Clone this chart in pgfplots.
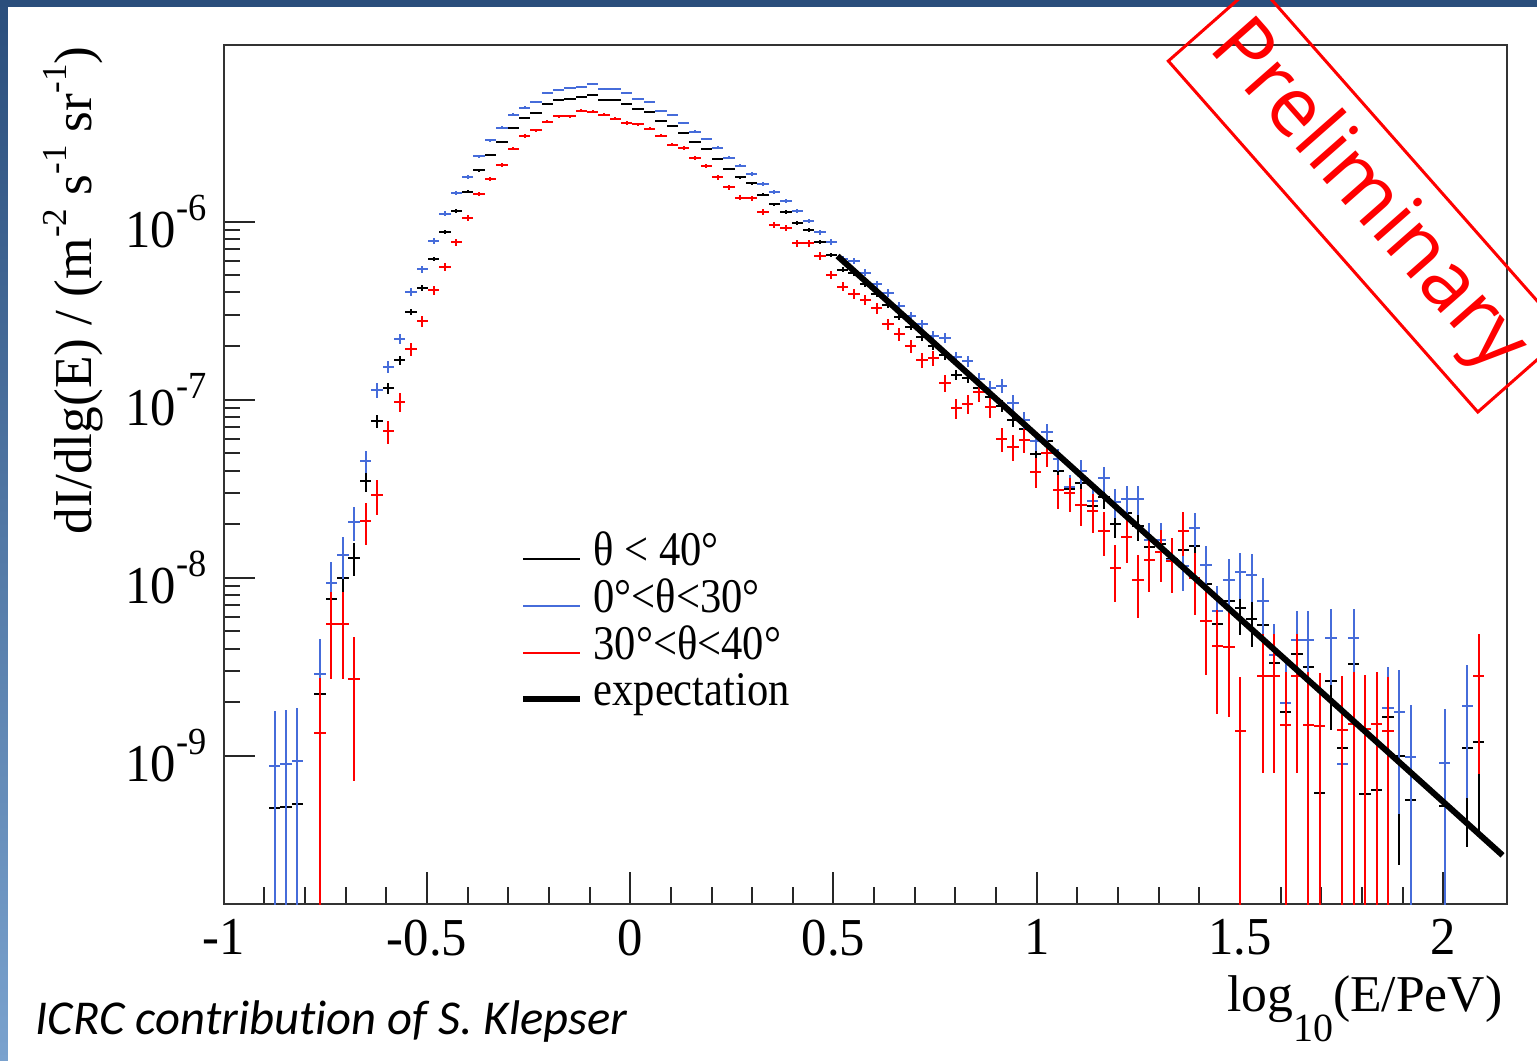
\documentclass[border=0pt]{standalone}
\usepackage{pgfplots}
\usepackage{pgfplotstable}
\pgfplotsset{compat=1.18}
\usepackage{fontspec}
\newfontfamily\rootfont{Liberation Serif}[FakeStretch=0.88]
\newfontfamily\tickfont{Liberation Serif}[FakeStretch=0.95]
\newfontfamily\titlefont{Liberation Serif}[FakeStretch=1.0]
\newfontfamily\notefont{Carlito}[Ligatures=NoCommon]
\newfontfamily\stampfont{Open Sans}

\definecolor{rootblue}{RGB}{70,108,218}
\definecolor{rootred}{RGB}{255,0,0}
\definecolor{slidetop}{RGB}{42,78,124}
\definecolor{slidebottom}{RGB}{122,162,206}

% decade tick label 10^{-n} in the ROOT look
\newcommand{\tl}[1]{{\tickfont\fontsize{16}{16}\selectfont 10\raisebox{8pt}{\fontsize{11.5}{11.5}\selectfont -#1}}}
% raised exponent in the axis titles
\newcommand{\rs}[1]{\raisebox{7.5pt}{\fontsize{10.5}{10.5}\selectfont #1}}

% columns: log10(E/PeV), dI/dlg(E), upper error, lower error
\pgfplotstableread{
x y ep em
-0.8746 5.06e-10 5.37e-10 5.01e-10
-0.8467 5.15e-10 5.42e-10 5.10e-10
-0.8187 5.33e-10 5.51e-10 5.28e-10
-0.7628 2.22e-9 1.13e-9 1.13e-9
-0.7349 7.57e-9 2.08e-9 2.08e-9
-0.7069 9.93e-9 2.38e-9 2.38e-9
-0.6790 1.29e-8 2.71e-9 2.71e-9
-0.6510 3.49e-8 4.46e-9 4.46e-9
-0.6231 7.59e-8 6.58e-9 6.58e-9
-0.5952 1.16e-7 8.13e-9 8.13e-9
-0.5672 1.66e-7 9.73e-9 9.73e-9
-0.5393 3.11e-7 1.33e-8 1.33e-8
-0.5113 4.25e-7 1.56e-8 1.56e-8
-0.4834 6.17e-7 1.87e-8 1.87e-8
-0.4554 8.71e-7 2.23e-8 2.23e-8
-0.4275 1.15e-6 2.56e-8 2.56e-8
-0.3996 1.47e-6 2.89e-8 2.89e-8
-0.3716 1.94e-6 3.32e-8 3.32e-8
-0.3437 2.37e-6 3.67e-8 3.67e-8
-0.3157 2.81e-6 4.00e-8 4.00e-8
-0.2878 3.37e-6 4.38e-8 4.38e-8
-0.2598 3.84e-6 4.68e-8 4.68e-8
-0.2319 4.06e-6 4.81e-8 4.81e-8
-0.2040 4.57e-6 5.10e-8 5.10e-8
-0.1760 4.81e-6 5.24e-8 5.24e-8
-0.1481 4.89e-6 5.28e-8 5.28e-8
-0.1201 5.00e-6 5.34e-8 5.34e-8
-0.0922 5.15e-6 5.42e-8 5.42e-8
-0.0642 4.85e-6 5.26e-8 5.26e-8
-0.0363 4.81e-6 5.24e-8 5.24e-8
-0.0084 4.57e-6 5.10e-8 5.10e-8
0.0196 4.30e-6 4.95e-8 4.95e-8
0.0475 4.15e-6 4.86e-8 4.86e-8
0.0755 3.68e-6 4.58e-8 4.58e-8
0.1034 3.45e-6 4.43e-8 4.43e-8
0.1313 3.15e-6 4.24e-8 4.24e-8
0.1593 2.81e-6 4.00e-8 4.00e-8
0.1872 2.56e-6 3.82e-8 3.82e-8
0.2152 2.25e-6 3.58e-8 3.58e-8
0.2431 1.98e-6 3.36e-8 3.36e-8
0.2711 1.77e-6 3.18e-8 3.18e-8
0.2990 1.64e-6 3.06e-8 3.06e-8
0.3269 1.42e-6 2.84e-8 2.84e-8
0.3549 1.25e-6 2.67e-8 2.67e-8
0.3828 1.13e-6 2.54e-8 2.54e-8
0.4108 9.80e-7 2.36e-8 2.36e-8
0.4387 9.02e-7 2.27e-8 2.27e-8
0.4667 7.72e-7 2.10e-8 2.10e-8
0.4946 6.50e-7 1.92e-8 1.92e-8
0.5225 5.38e-7 1.75e-8 1.75e-8
0.5505 5.13e-7 1.71e-8 1.71e-8
0.5784 4.45e-7 1.59e-8 1.59e-8
0.6064 3.91e-7 1.49e-8 1.49e-8
0.6343 3.40e-7 1.39e-8 1.39e-8
0.6623 2.92e-7 1.29e-8 1.29e-8
0.6902 2.57e-7 1.21e-8 1.21e-8
0.7182 2.24e-7 1.13e-8 1.13e-8
0.7461 2.01e-7 1.07e-8 1.07e-8
0.7740 1.78e-7 1.01e-8 1.01e-8
0.8020 1.38e-7 8.87e-9 8.87e-9
0.8299 1.32e-7 8.67e-9 8.67e-9
0.8579 1.17e-7 8.17e-9 8.17e-9
0.8858 1.04e-7 7.70e-9 7.70e-9
0.9138 9.23e-8 7.25e-9 7.25e-9
0.9417 7.69e-8 6.62e-9 6.62e-9
0.9696 6.82e-8 6.23e-9 6.23e-9
0.9976 4.98e-8 5.33e-9 5.33e-9
1.0255 5.89e-8 5.79e-9 5.79e-9
1.0535 3.99e-8 4.77e-9 4.77e-9
1.0814 3.14e-8 4.23e-9 4.23e-9
1.1094 3.39e-8 4.39e-9 4.39e-9
1.1373 2.54e-8 3.80e-9 3.80e-9
1.1652 2.85e-8 4.03e-9 4.03e-9
1.1932 2.00e-8 3.38e-9 3.38e-9
1.2211 2.32e-8 3.64e-9 3.64e-9
1.2491 1.95e-8 3.33e-9 3.33e-9
1.2770 1.49e-8 2.91e-9 2.91e-9
1.3050 1.54e-8 2.96e-9 2.96e-9
1.3329 1.27e-8 2.69e-9 2.69e-9
1.3608 1.43e-8 2.85e-9 2.85e-9
1.3888 1.51e-8 2.93e-9 2.93e-9
1.4167 9.22e-9 2.29e-9 2.29e-9
1.4447 5.52e-9 1.77e-9 1.77e-9
1.4726 7.40e-9 2.05e-9 2.05e-9
1.5006 6.73e-9 1.96e-9 1.96e-9
1.5285 5.90e-9 1.83e-9 1.83e-9
1.5565 5.41e-9 1.76e-9 1.76e-9
1.5844 3.33e-9 1.38e-9 1.38e-9
1.6123 1.75e-9 9.99e-10 9.99e-10
1.6403 3.71e-9 1.45e-9 1.45e-9
1.6682 3.16e-9 1.34e-9 1.34e-9
1.6962 6.20e-10 5.94e-10 5.94e-10
1.7241 2.62e-9 1.22e-9 1.22e-9
1.7521 1.10e-9 7.92e-10 7.92e-10
1.7800 3.28e-9 1.37e-9 1.37e-9
1.8079 6.07e-10 5.88e-10 5.88e-10
1.8359 6.41e-10 6.04e-10 6.04e-10
1.8638 1.66e-9 9.73e-10 9.73e-10
1.8918 9.96e-10 7.53e-10 7.53e-10
1.9197 5.64e-10 5.67e-10 5.58e-10
2.0035 5.21e-10 5.45e-10 5.16e-10
2.0594 1.10e-9 7.92e-10 7.92e-10
2.0874 1.20e-9 8.27e-10 8.27e-10
}\allzenith

\pgfplotstableread{
x y ep em
-0.8746 8.79e-10 9.04e-10 8.70e-10
-0.8467 8.95e-10 9.13e-10 8.86e-10
-0.8187 9.33e-10 9.32e-10 9.24e-10
-0.7628 2.87e-9 1.63e-9 1.63e-9
-0.7349 9.31e-9 2.94e-9 2.94e-9
-0.7069 1.34e-8 3.53e-9 3.53e-9
-0.6790 2.05e-8 4.37e-9 4.37e-9
-0.6510 4.53e-8 6.49e-9 6.49e-9
-0.6231 1.13e-7 1.03e-8 1.03e-8
-0.5952 1.53e-7 1.19e-8 1.19e-8
-0.5672 2.19e-7 1.43e-8 1.43e-8
-0.5393 4.04e-7 1.94e-8 1.94e-8
-0.5113 5.40e-7 2.24e-8 2.24e-8
-0.4834 7.79e-7 2.69e-8 2.69e-8
-0.4554 1.11e-6 3.21e-8 3.21e-8
-0.4275 1.44e-6 3.66e-8 3.66e-8
-0.3996 1.78e-6 4.07e-8 4.07e-8
-0.3716 2.33e-6 4.65e-8 4.65e-8
-0.3437 2.87e-6 5.17e-8 5.17e-8
-0.3157 3.37e-6 5.60e-8 5.60e-8
-0.2878 3.99e-6 6.09e-8 6.09e-8
-0.2598 4.37e-6 6.37e-8 6.37e-8
-0.2319 4.69e-6 6.61e-8 6.61e-8
-0.2040 5.28e-6 7.01e-8 7.01e-8
-0.1760 5.47e-6 7.13e-8 7.13e-8
-0.1481 5.66e-6 7.26e-8 7.26e-8
-0.1201 5.71e-6 7.29e-8 7.29e-8
-0.0922 5.94e-6 7.43e-8 7.43e-8
-0.0642 5.57e-6 7.20e-8 7.20e-8
-0.0363 5.57e-6 7.20e-8 7.20e-8
-0.0084 5.28e-6 7.01e-8 7.01e-8
0.0196 4.91e-6 6.76e-8 6.76e-8
0.0475 4.70e-6 6.61e-8 6.61e-8
0.0755 4.20e-6 6.25e-8 6.25e-8
0.1034 3.98e-6 6.08e-8 6.08e-8
0.1313 3.58e-6 5.77e-8 5.77e-8
0.1593 3.20e-6 5.46e-8 5.46e-8
0.1872 2.91e-6 5.20e-8 5.20e-8
0.2152 2.60e-6 4.92e-8 4.92e-8
0.2431 2.29e-6 4.61e-8 4.61e-8
0.2711 2.06e-6 4.38e-8 4.38e-8
0.2990 1.85e-6 4.15e-8 4.15e-8
0.3269 1.63e-6 3.89e-8 3.89e-8
0.3549 1.47e-6 3.70e-8 3.70e-8
0.3828 1.30e-6 3.48e-8 3.48e-8
0.4108 1.15e-6 3.27e-8 3.27e-8
0.4387 1.01e-6 3.07e-8 3.07e-8
0.4667 8.71e-7 2.85e-8 2.85e-8
0.4946 7.69e-7 2.67e-8 2.67e-8
0.5225 6.19e-7 2.40e-8 2.40e-8
0.5505 6.04e-7 2.37e-8 2.37e-8
0.5784 5.17e-7 2.19e-8 2.19e-8
0.6064 4.45e-7 2.03e-8 2.03e-8
0.6343 3.99e-7 1.93e-8 1.93e-8
0.6623 3.37e-7 1.77e-8 1.77e-8
0.6902 2.96e-7 1.66e-8 1.66e-8
0.7182 2.66e-7 1.57e-8 1.57e-8
0.7461 2.29e-7 1.46e-8 1.46e-8
0.7740 2.23e-7 1.44e-8 1.44e-8
0.8020 1.73e-7 1.27e-8 1.27e-8
0.8299 1.64e-7 1.24e-8 1.24e-8
0.8579 1.30e-7 1.10e-8 1.10e-8
0.8858 1.17e-7 1.04e-8 1.04e-8
0.9138 1.20e-7 1.06e-8 1.06e-8
0.9417 9.64e-8 9.47e-9 9.47e-9
0.9696 7.69e-8 8.46e-9 8.46e-9
0.9976 5.88e-8 7.40e-9 7.40e-9
1.0255 6.56e-8 7.81e-9 7.81e-9
1.0535 4.65e-8 6.58e-9 6.58e-9
1.0814 3.22e-8 5.47e-9 5.47e-9
1.1094 3.97e-8 6.08e-9 6.08e-9
1.1373 2.71e-8 5.02e-9 5.02e-9
1.1652 3.63e-8 5.81e-9 5.81e-9
1.1932 2.65e-8 4.97e-9 4.97e-9
1.2211 2.75e-8 5.06e-9 5.06e-9
1.2491 2.75e-8 5.06e-9 5.06e-9
1.2770 1.63e-8 3.89e-9 3.89e-9
1.3050 1.63e-8 3.89e-9 3.89e-9
1.3329 1.26e-8 3.42e-9 3.42e-9
1.3608 1.17e-8 3.30e-9 3.30e-9
1.3888 1.90e-8 4.20e-9 4.20e-9
1.4167 1.18e-8 3.31e-9 3.31e-9
1.4447 6.50e-9 2.46e-9 2.46e-9
1.4726 9.70e-9 3.00e-9 3.00e-9
1.5006 1.07e-8 3.15e-9 3.15e-9
1.5285 1.04e-8 3.11e-9 3.11e-9
1.5565 7.40e-9 2.62e-9 2.62e-9
1.5844 3.66e-9 1.85e-9 1.85e-9
1.6123 1.99e-9 1.36e-9 1.36e-9
1.6403 4.47e-9 2.04e-9 2.04e-9
1.6682 4.47e-9 2.04e-9 2.04e-9
1.7241 4.57e-9 2.06e-9 2.06e-9
1.7521 8.95e-10 9.13e-10 8.86e-10
1.7800 4.57e-9 2.06e-9 2.06e-9
1.8638 1.85e-9 1.31e-9 1.31e-9
1.8918 1.75e-9 1.28e-9 1.28e-9
1.9197 9.82e-10 9.56e-10 9.56e-10
2.0035 9.14e-10 9.22e-10 9.05e-10
2.0594 1.91e-9 1.33e-9 1.33e-9
}\lowzenith

\pgfplotstableread{
x y ep em
-0.7628 1.35e-9 1.39e-9 1.34e-9
-0.7349 5.50e-9 2.81e-9 2.81e-9
-0.7069 5.50e-9 2.81e-9 2.81e-9
-0.6790 2.69e-9 1.97e-9 1.97e-9
-0.6510 2.08e-8 5.47e-9 5.47e-9
-0.6231 2.90e-8 6.46e-9 6.46e-9
-0.5952 6.65e-8 9.79e-9 9.79e-9
-0.5672 9.71e-8 1.18e-8 1.18e-8
-0.5393 1.92e-7 1.66e-8 1.66e-8
-0.5113 2.77e-7 2.00e-8 2.00e-8
-0.4834 4.11e-7 2.43e-8 2.43e-8
-0.4554 5.59e-7 2.84e-8 2.84e-8
-0.4275 7.66e-7 3.32e-8 3.32e-8
-0.3996 1.05e-6 3.89e-8 3.89e-8
-0.3716 1.43e-6 4.54e-8 4.54e-8
-0.3437 1.74e-6 5.01e-8 5.01e-8
-0.3157 2.08e-6 5.47e-8 5.47e-8
-0.2878 2.57e-6 6.08e-8 6.08e-8
-0.2598 3.02e-6 6.60e-8 6.60e-8
-0.2319 3.26e-6 6.85e-8 6.85e-8
-0.2040 3.65e-6 7.25e-8 7.25e-8
-0.1760 3.91e-6 7.50e-8 7.50e-8
-0.1481 3.92e-6 7.51e-8 7.51e-8
-0.1201 4.20e-6 7.78e-8 7.78e-8
-0.0922 4.15e-6 7.73e-8 7.73e-8
-0.0642 3.99e-6 7.58e-8 7.58e-8
-0.0363 3.78e-6 7.38e-8 7.38e-8
-0.0084 3.58e-6 7.18e-8 7.18e-8
0.0196 3.52e-6 7.12e-8 7.12e-8
0.0475 3.32e-6 6.91e-8 6.91e-8
0.0755 3.04e-6 6.62e-8 6.62e-8
0.1034 2.71e-6 6.25e-8 6.25e-8
0.1313 2.60e-6 6.12e-8 6.12e-8
0.1593 2.29e-6 5.74e-8 5.74e-8
0.1872 2.06e-6 5.45e-8 5.45e-8
0.2152 1.77e-6 5.05e-8 5.05e-8
0.2431 1.56e-6 4.74e-8 4.74e-8
0.2711 1.36e-6 4.43e-8 4.43e-8
0.2990 1.35e-6 4.41e-8 4.41e-8
0.3269 1.13e-6 4.03e-8 4.03e-8
0.3549 9.62e-7 3.72e-8 3.72e-8
0.3828 9.25e-7 3.65e-8 3.65e-8
0.4108 7.56e-7 3.30e-8 3.30e-8
0.4387 7.56e-7 3.30e-8 3.30e-8
0.4667 6.41e-7 3.04e-8 3.04e-8
0.4946 5.00e-7 2.68e-8 2.68e-8
0.5225 4.31e-7 2.49e-8 2.49e-8
0.5505 3.93e-7 2.38e-8 2.38e-8
0.5784 3.63e-7 2.29e-8 2.29e-8
0.6064 3.26e-7 2.17e-8 2.17e-8
0.6343 2.66e-7 1.96e-8 1.96e-8
0.6623 2.33e-7 1.83e-8 1.83e-8
0.6902 1.99e-7 1.69e-8 1.69e-8
0.7182 1.67e-7 1.55e-8 1.55e-8
0.7461 1.71e-7 1.57e-8 1.57e-8
0.7740 1.24e-7 1.34e-8 1.34e-8
0.8020 8.95e-8 1.14e-8 1.14e-8
0.8299 9.46e-8 1.17e-8 1.17e-8
0.8579 1.10e-7 1.26e-8 1.26e-8
0.8858 9.06e-8 1.14e-8 1.14e-8
0.9138 6.00e-8 9.29e-9 9.29e-9
0.9417 5.43e-8 8.84e-9 8.84e-9
0.9696 5.96e-8 9.26e-9 9.26e-9
0.9976 3.94e-8 7.53e-9 7.53e-9
1.0255 5.02e-8 8.50e-9 8.50e-9
1.0535 3.09e-8 6.67e-9 6.67e-9
1.0814 2.98e-8 6.55e-9 6.55e-9
1.1094 2.56e-8 6.07e-9 6.07e-9
1.1373 2.37e-8 5.84e-9 5.84e-9
1.1652 1.83e-8 5.13e-9 5.13e-9
1.1932 1.13e-8 4.03e-9 4.03e-9
1.2211 1.70e-8 4.95e-9 4.95e-9
1.2491 9.70e-9 3.74e-9 3.74e-9
1.2770 1.26e-8 4.26e-9 4.26e-9
1.3050 1.40e-8 4.49e-9 4.49e-9
1.3329 1.24e-8 4.23e-9 4.23e-9
1.3608 1.83e-8 5.13e-9 5.13e-9
1.3888 9.93e-9 3.78e-9 3.78e-9
1.4167 5.71e-9 2.87e-9 2.87e-9
1.4447 4.16e-9 2.45e-9 2.45e-9
1.4726 4.08e-9 2.42e-9 2.42e-9
1.5006 1.37e-9 1.40e-9 1.36e-9
1.5565 2.82e-9 2.02e-9 2.02e-9
1.5844 2.82e-9 2.02e-9 2.02e-9
1.6123 1.48e-9 1.46e-9 1.46e-9
1.6403 2.82e-9 2.02e-9 2.02e-9
1.6682 1.48e-9 1.46e-9 1.46e-9
1.6962 1.46e-9 1.45e-9 1.45e-9
1.7521 1.39e-9 1.41e-9 1.38e-9
1.7800 1.50e-9 1.47e-9 1.47e-9
1.8079 1.42e-9 1.43e-9 1.41e-9
1.8359 1.50e-9 1.47e-9 1.47e-9
1.8638 1.37e-9 1.40e-9 1.36e-9
2.0874 2.81e-9 2.02e-9 2.02e-9
}\highzenith

\begin{document}
\begin{tikzpicture}
\useasboundingbox (0,0) rectangle (461.1pt,318.3pt);
\clip (0,0) rectangle (461.1pt,318.3pt);
% slide background with the white canvas on top
\shade[top color=slidetop, bottom color=slidebottom] (0,0) rectangle (461.1pt,318.3pt);
\fill[white] (2.5pt,0) rectangle (461.1pt,316.3pt);

\begin{axis}[
  at={(67.11pt,47.1pt)}, anchor=south west,
  scale only axis, width=385pt, height=257.8pt,
  xmin=-1, xmax=2.157,
  ymode=log, ymin=1.47e-10, ymax=9.86e-6,
  axis line style={draw=black!80, line width=0.6pt},
  tick align=inside, xtick pos=bottom, ytick pos=left,
  xtick={-1,-0.5,0,0.5,1,1.5,2},
  xticklabels={-1,-0.5,0,0.5,1,1.5,2},
  minor x tick num=4,
  ytick={1e-9,1e-8,1e-7,1e-6},
  yticklabels={{\tl{9}},{\tl{8}},{\tl{7}},{\tl{6}}},
  major tick length=9.5pt, minor tick length=5pt,
  tick style={draw=black!85, line width=0.6pt},
  xticklabel style={font=\tickfont\fontsize{16}{16}\selectfont, inner sep=0pt, yshift=-4.5pt},
  yticklabel style={anchor=east, inner sep=0pt, xshift=-5pt},
  error bars/error mark=none,
]
% histogram points drawn as ROOT-style error crosses only
\addplot[only marks, mark size=0pt, mark options={draw=none, fill=none},
  error bars/.cd, x dir=both, x fixed=0.0140, y dir=both, y explicit,
  error bar style={line width=0.6pt, draw=black}]
  table[x=x, y=y, y error plus=ep, y error minus=em] {\allzenith};
\addplot[only marks, mark size=0pt, mark options={draw=none, fill=none},
  error bars/.cd, x dir=both, x fixed=0.0140, y dir=both, y explicit,
  error bar style={line width=0.6pt, draw=rootblue}]
  table[x=x, y=y, y error plus=ep, y error minus=em] {\lowzenith};
\addplot[only marks, mark size=0pt, mark options={draw=none, fill=none},
  error bars/.cd, x dir=both, x fixed=0.0140, y dir=both, y explicit,
  error bar style={line width=0.6pt, draw=rootred}]
  table[x=x, y=y, y error plus=ep, y error minus=em] {\highzenith};
% expected flux (power law)
\addplot[black, line width=1.8pt, mark=none] coordinates {(0.51,6.41e-7) (2.146,2.76e-10)};
\end{axis}

% axis titles
\node[rotate=90, anchor=base east, inner sep=0pt, font=\titlefont\fontsize{16}{16}\selectfont]
  at (27.6pt,304.5pt) {dI/dlg(E) / (m\rs{-2} s\rs{-1} sr\rs{-1})};
\node[anchor=base east, inner sep=0pt, font=\titlefont\fontsize{15.5}{15.5}\selectfont]
  at (450.9pt,14.7pt) {log\raisebox{-9pt}{\fontsize{12}{12}\selectfont 10}(E/PeV)};

% legend
\begin{scope}[font=\rootfont\fontsize{14.5}{14.5}\selectfont]
\draw[black, line width=0.6pt] (156.9pt,150.6pt) -- (174pt,150.6pt);
\node[anchor=base west, inner sep=0pt] at (177.9pt,148.6pt) {θ < 40°};
\draw[rootblue, line width=0.6pt] (156.9pt,136.5pt) -- (174pt,136.5pt);
\node[anchor=base west, inner sep=0pt] at (177.9pt,134.5pt) {0°<θ<30°};
\draw[rootred, line width=0.6pt] (156.9pt,122.4pt) -- (174pt,122.4pt);
\node[anchor=base west, inner sep=0pt] at (177.9pt,120.4pt) {30°<θ<40°};
\draw[black, line width=1.8pt] (156.9pt,108.6pt) -- (174pt,108.6pt);
\node[anchor=base west, inner sep=0pt] at (177.9pt,106.6pt) {expectation};
\end{scope}

% stamp and credit line
\node[rotate=-48.6, draw=rootred, line width=0.9pt, minimum width=140.4pt, minimum height=35.4pt,
  inner sep=0pt, text=rootred, font=\stampfont\fontsize{24.5}{24.5}\selectfont]
  at (410.2pt,259.05pt) {Preliminary};
\node[anchor=base west, inner sep=0pt, font=\notefont\itshape\fontsize{14.6}{14.6}\selectfont]
  at (10.5pt,7.8pt) {ICRC contribution of S. Klepser};
\end{tikzpicture}
\end{document}
